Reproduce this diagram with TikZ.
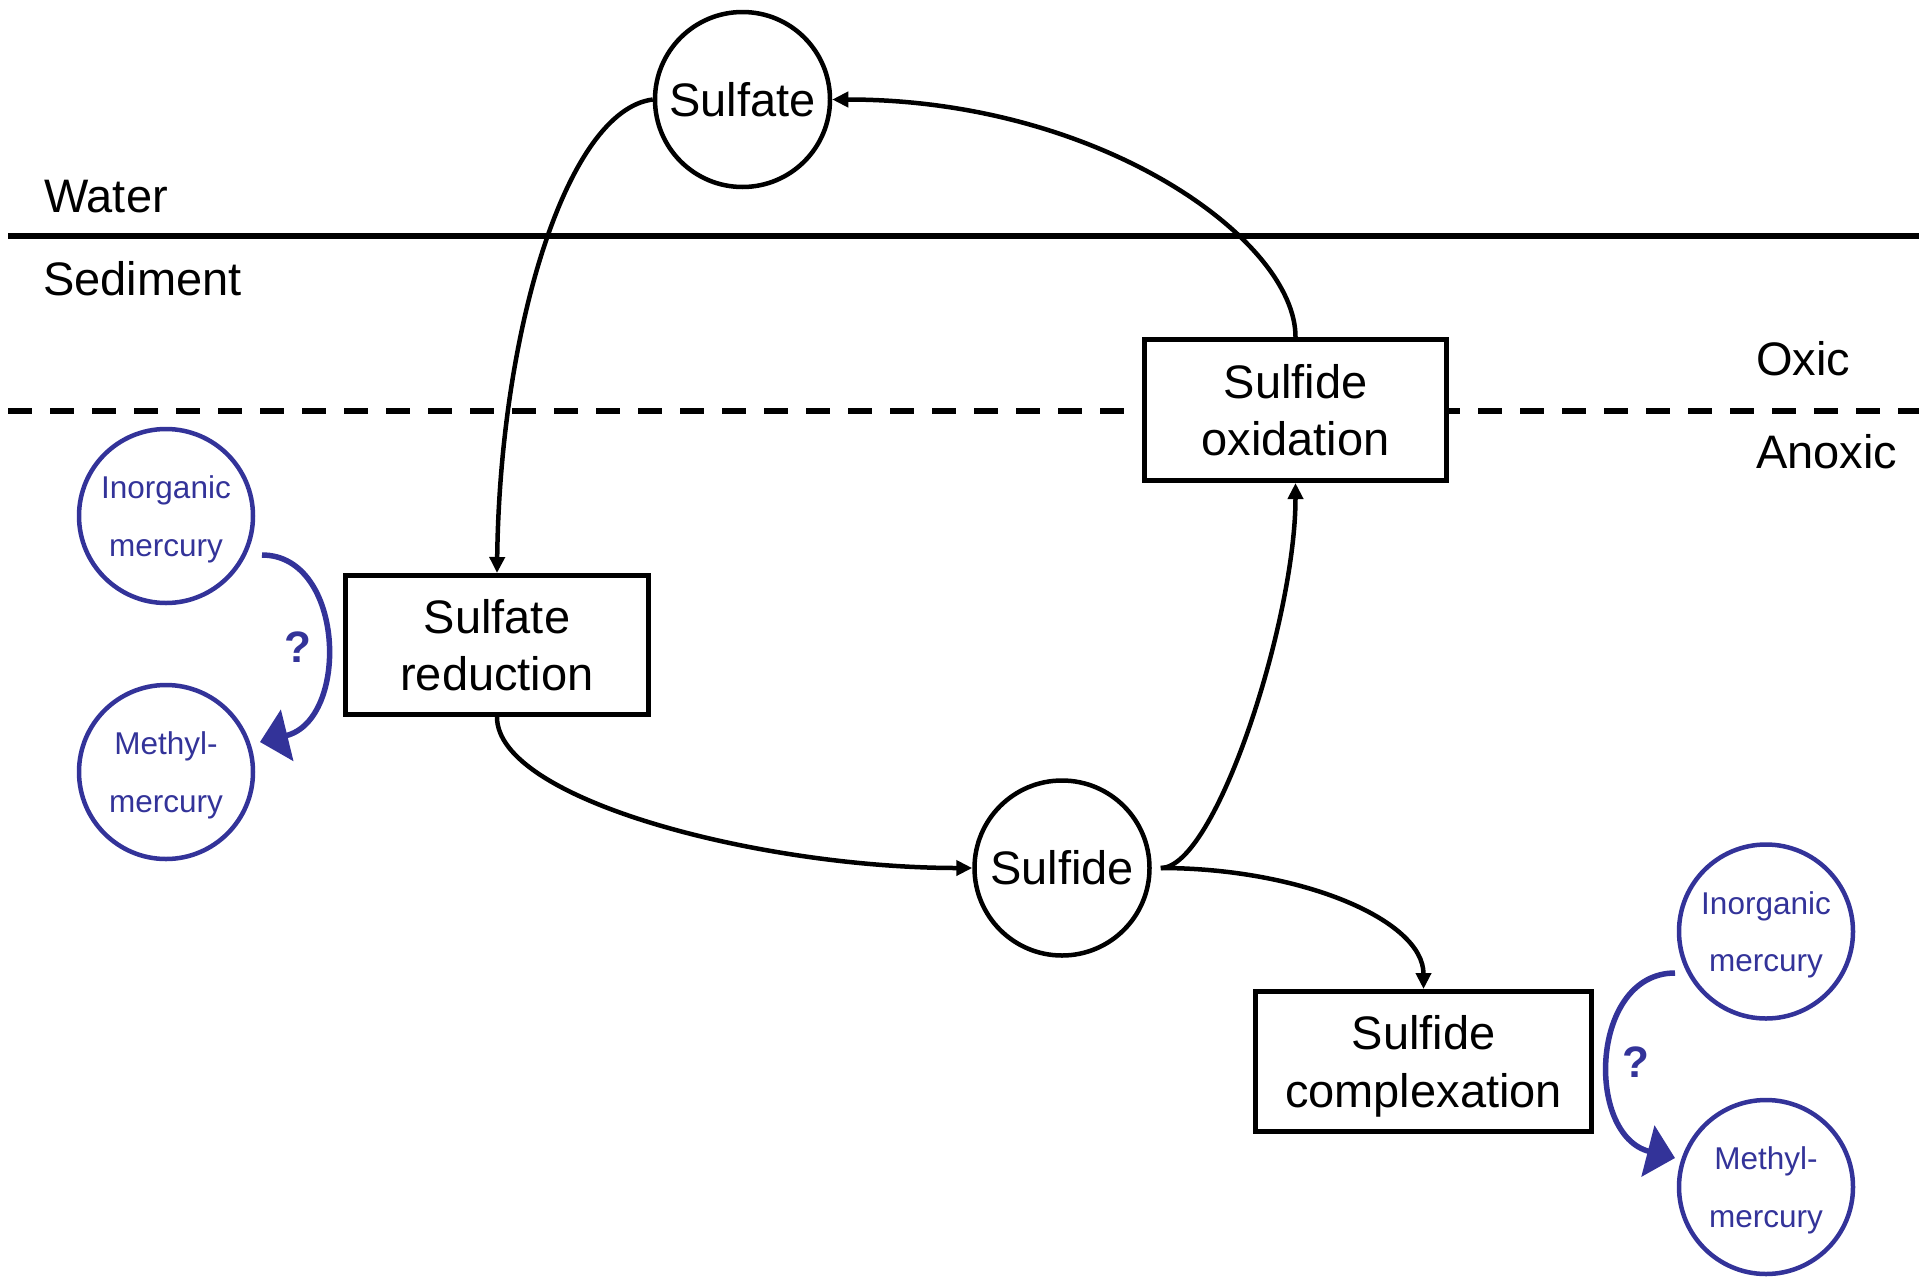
\documentclass[tikz,border=0pt]{standalone}
\usepackage{fontspec}
\setmainfont{Liberation Sans}
\usetikzlibrary{arrows.meta,calc}
\definecolor{hgblue}{RGB}{51,51,153}
\begin{document}
\begin{tikzpicture}[x=1pt,y=-1pt,
  big/.style={font=\fontsize{47}{57.5}\selectfont},
  circ/.style={circle,draw,line width=4.5pt,minimum size=175pt,inner sep=0pt,big,fill=white},
  proc/.style={draw,line width=5pt,inner sep=0pt,align=center,big,fill=white,text depth=0pt},
  hgcirc/.style={circle,draw=hgblue,text=hgblue,line width=4.5pt,minimum size=174pt,inner sep=0pt,align=center,text depth=-9pt,font=\fontsize{31.5}{57.5}\selectfont},
  flow/.style={line width=4.5pt,-{Triangle[length=16pt,width=15pt]}},
  hgflow/.style={draw=hgblue,line width=5.5pt,-{Triangle[length=28pt,width=52pt]}},
  qmark/.style={text=hgblue,inner sep=0pt,font=\fontsize{44}{44}\selectfont\bfseries},
  lbl/.style={big,anchor=base west,inner sep=0pt}]
\useasboundingbox (0,0) rectangle (1919,1277);
% boundaries
\coordinate (solidL) at (8,236);
\coordinate (solidR) at (1919,236);
\coordinate (dashL) at (8,411);
\coordinate (dashR) at (1919,411);
\draw[line width=6pt] (solidL) -- (solidR);
\draw[line width=5.5pt,dash pattern=on 23.5pt off 18.5pt] (dashL) -- (dashR);
% zone labels
\node[lbl] (water) at (44,212) {Water};
\node[lbl] (sediment) at (43,295) {Sediment};
\node[lbl] (oxic) at (1756,375) {Oxic};
\node[lbl] (anoxic) at (1756,468) {Anoxic};
% main nodes
\node[circ] (sulfate) at (742.5,99.5) {Sulfate};
\node[circ] (sulfide) at (1062,868) {Sulfide};
\node[proc,minimum width=303pt,minimum height=139pt] (sredu) at (497,645) {Sulfate\\reduction};
\node[proc,minimum width=302pt,minimum height=141pt] (sox) at (1295.5,410) {Sulfide\\oxidation};
\node[proc,minimum width=336pt,minimum height=140pt] (scomp) at (1423.5,1061.5) {Sulfide\\complexation};
% mercury nodes
\node[hgcirc] (inorgL) at (166,516) {Inorganic\\mercury};
\node[hgcirc] (methL) at (166,772) {Methyl-\\mercury};
\node[hgcirc] (inorgR) at (1766,931.5) {Inorganic\\mercury};
\node[hgcirc] (methR) at (1766,1187) {Methyl-\\mercury};
\node[qmark] (qL) at (298,647) {?};
\node[qmark] (qR) at (1636,1062) {?};
% sulfur cycle connectors
\draw[flow] (sulfate.west) .. controls +(-86,11) and +(3,-243) .. (sredu.north);
\draw[flow] (sox.north) .. controls +(0,-97) and +(268,0) .. (sulfate.east);
\draw[flow] (sredu.south) .. controls +(0,83) and +(-211,0) .. (sulfide.west);
\draw[flow] ($(sulfide.east)+(9,0)$) .. controls +(55,0) and +(0,137) .. (sox.south);
\draw[flow] ($(sulfide.east)+(9,0)$) .. controls +(140,0) and +(0,-69) .. (scomp.north);
% mercury methylation connectors
\draw[hgflow] ($(inorgL.center)+(96,39)$) .. controls +(83,0) and +(90,-22) .. ($(methL.center)+(94,-30)$);
\draw[hgflow] ($(inorgR.center)+(-91,41.5)$) .. controls +(-85,0) and +(-90,-23) .. ($(methR.center)+(-91,-29)$);
\end{tikzpicture}
\end{document}
